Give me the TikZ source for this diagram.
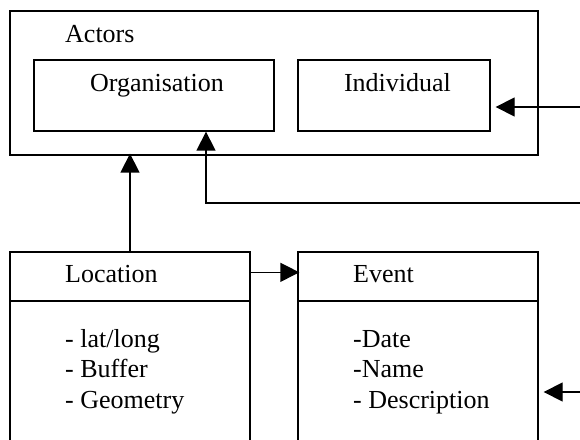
\documentclass[tikz,border=0pt]{standalone}
\usepackage{fontspec}
\setmainfont{Liberation Serif}
\usetikzlibrary{arrows.meta}
\begin{document}
\begin{tikzpicture}[x=1pt,y=1pt,
  box/.style={draw, line width=1.3pt, rectangle, inner sep=0pt},
  lbl/.style={anchor=base west, inner sep=0pt, font=\fontsize{26}{30}\selectfont},
  clbl/.style={anchor=base, inner sep=0pt, font=\fontsize{26}{30}\selectfont},
  arr/.style={line width=1.3pt, -{Triangle[length=19pt,width=19pt]}},
  conn/.style={line width=1.3pt}]
\useasboundingbox (0,0) rectangle (580,439);
% Actors
\node[box, minimum width=528, minimum height=144] (Actors) at (274,356) {};
\node[lbl] (actorsT) at (65,396) {Actors};
\node[box, minimum width=240, minimum height=71] (Organisation) at (154,343.5) {};
\node[clbl] (orgT) at (157,347) {Organisation};
\node[box, minimum width=192, minimum height=71] (Individual) at (394,343.5) {};
\node[clbl] (indT) at (397.5,347) {Individual};
% Location
\node[box, minimum width=240, minimum height=207] (Location) at (130,83.5) {};
\draw[conn] (10,138) -- (250,138);
\node[lbl] (locT) at (65,156) {Location};
\node[lbl] (loc1) at (65,92) {- lat/long};
\node[lbl] (loc2) at (65,61.5) {- Buffer};
\node[lbl] (loc3) at (65,31) {- Geometry};
% Event
\node[box, minimum width=240, minimum height=207] (Event) at (418,83.5) {};
\draw[conn] (298,138) -- (538,138);
\node[lbl] (evT) at (353,156) {Event};
\node[lbl] (ev1) at (353,92) {-Date};
\node[lbl] (ev2) at (353,61.5) {-Name};
\node[lbl] (ev3) at (353,31) {- Description};
% connectors
\coordinate (r1) at (580,332);
\coordinate (r2) at (580,236);
\coordinate (r3) at (580,47);
\draw[arr] (Location.north) -- ([yshift=2]Location.north |- Actors.south);
\draw[arr] ([yshift=-21]Location.north east) -- ([yshift=-21,xshift=2]Event.north west);
\draw[arr, shorten >=5pt] (r1) -- (Individual.east |- r1);
\draw[arr] (r2) -| ([xshift=52]Organisation.south);
\draw[arr, shorten >=5pt] (r3) -- (Event.east |- r3);
\end{tikzpicture}
\end{document}
